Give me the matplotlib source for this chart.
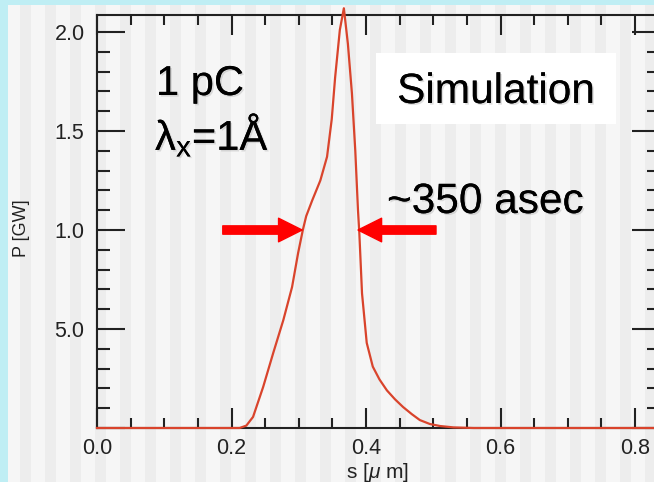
import matplotlib
matplotlib.use("Agg")
import matplotlib.pyplot as plt
from matplotlib.patches import Rectangle, FancyArrowPatch
from matplotlib.ticker import MultipleLocator, FixedLocator, FixedFormatter
import matplotlib.patheffects as pe

plt.rcParams['font.family'] = ['Liberation Sans', 'DejaVu Sans']
plt.rcParams['mathtext.fontset'] = 'custom'
plt.rcParams['mathtext.rm'] = 'Liberation Sans'
plt.rcParams['mathtext.it'] = 'Liberation Sans:italic'

# power profile
s_um = [0.0, 0.10, 0.20, 0.212, 0.222, 0.232, 0.247, 0.262, 0.277, 0.290, 0.299,
        0.306, 0.311, 0.320, 0.332, 0.342, 0.349, 0.354, 0.361, 0.367,
        0.373, 0.379, 0.384, 0.388, 0.390, 0.394, 0.401, 0.410, 0.420,
        0.431, 0.443, 0.455, 0.468, 0.480, 0.495, 0.510, 0.530, 0.560, 0.70, 0.84]
p_gw = [0.0, 0.0, 0.0, 0.0, 0.012, 0.056, 0.207, 0.379, 0.545, 0.712, 0.884,
        1.0, 1.07, 1.15, 1.25, 1.37, 1.56, 1.77, 2.01, 2.12,
        1.94, 1.69, 1.40, 1.10, 0.985, 0.68, 0.43, 0.31, 0.245,
        0.19, 0.145, 0.106, 0.07, 0.04, 0.02, 0.01, 0.003, 0.0, 0.0, 0.0]

y_ticks = [0.0, 0.5, 1.0, 1.5, 2.0]
y_labels = ['', '5.0', '1.0', '1.5', '2.0']
x_ticks = [0.0, 0.2, 0.4, 0.6, 0.8]
x_labels = ['0.0', '0.2', '0.4', '0.6', '0.8']

W, H = 654, 482
fig = plt.figure(figsize=(W / 100, H / 100), dpi=100, facecolor='#bfeef4')


def fx(x):
    return x / W


def fy(y):
    return 1 - y / H


# striped backdrop
fig.patches.append(Rectangle((fx(8), 0), 1, fy(5), transform=fig.transFigure,
                             facecolor='#f6f6f6', edgecolor='none', zorder=-10))
x0 = 20
while x0 < W:
    fig.patches.append(Rectangle((fx(x0), 0), fx(11), fy(5), transform=fig.transFigure,
                                 facecolor='#ededed', edgecolor='none', zorder=-9))
    x0 += 25

# axes: left 97px, right 660px, top 15px, bottom 428px
ax = fig.add_axes([fx(97), fy(428), fx(660 - 97), (428 - 15) / H])
ax.set_facecolor('none')
ax.set_xlim(0, 0.837)
ax.set_ylim(0, 2.086)

ax.plot(s_um, p_gw, color='#d9442c', lw=1.6, zorder=5, clip_on=False)

ax.xaxis.set_major_locator(FixedLocator(x_ticks))
ax.xaxis.set_major_formatter(FixedFormatter(x_labels))
ax.xaxis.set_minor_locator(MultipleLocator(0.05))
ax.yaxis.set_major_locator(FixedLocator(y_ticks))
ax.yaxis.set_major_formatter(FixedFormatter(y_labels))
ax.yaxis.set_minor_locator(MultipleLocator(0.1))

ax.tick_params(axis='both', which='both', direction='in', top=True, right=True,
               color='#222222', width=1.5, labelsize=15.5, labelcolor='#222222')
ax.tick_params(axis='x', which='major', length=14.5, pad=7)
ax.tick_params(axis='x', which='minor', length=7)
ax.tick_params(axis='y', which='major', length=20, pad=9)
ax.tick_params(axis='y', which='minor', length=9.5)
for sp in ax.spines.values():
    sp.set_color('#222222')
    sp.set_linewidth(1.5)

fig.text(fx(377), fy(472), r's [$\mu$ m]', ha='center', va='center', fontsize=15,
         color='#222222')
fig.text(fx(21), fy(228), 'P [GW]', ha='center', va='center', rotation=90,
         fontsize=13, color='#222222')

shadow = [pe.withSimplePatchShadow(offset=(1.2, -1.2), shadow_rgbFace='#999999', alpha=0.3),
          pe.Normal()]

fig.text(fx(156), fy(95), '1 pC', ha='left', va='baseline', fontsize=30,
         path_effects=shadow)
fig.text(fx(155), fy(150), r'λ$_{\rm x}$=1Å', ha='left', va='baseline', fontsize=30,
         path_effects=shadow)

fig.patches.append(Rectangle((fx(376), fy(124)), fx(616 - 376), (124 - 53) / H,
                             transform=fig.transFigure, facecolor='white',
                             edgecolor='none', zorder=1))
fig.text(fx(496), fy(103), 'Simulation', ha='center', va='baseline', fontsize=30.5,
         path_effects=shadow, zorder=3)
fig.text(fx(387), fy(213), '~350 asec', ha='left', va='baseline', fontsize=30.5,
         path_effects=shadow)

arrow_style = 'simple,head_width=17,head_length=17,tail_width=6'
for tail, tip in [(0.187, 0.305), (0.504, 0.388)]:
    ax.add_patch(FancyArrowPatch((tail, 1.0), (tip, 1.0), arrowstyle=arrow_style,
                                 mutation_scale=1, color='#ff0000', shrinkA=0,
                                 shrinkB=0, zorder=6))

fig.savefig('out.png', dpi=100, facecolor=fig.get_facecolor())
